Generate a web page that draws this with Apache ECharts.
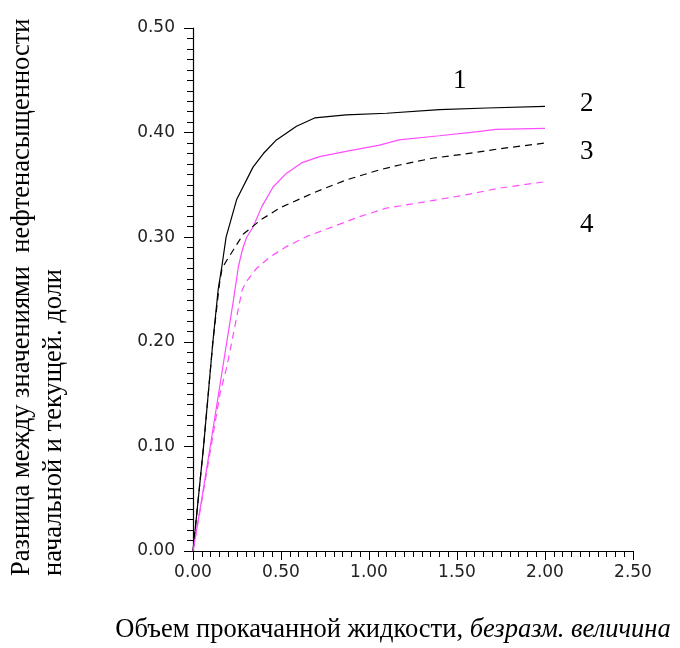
<!DOCTYPE html>
<html>
<head>
<meta charset="utf-8">
<script src="https://cdn.jsdelivr.net/npm/echarts@6/dist/echarts.min.js"></script>
<style>html,body{margin:0;padding:0;background:#fff}#c{width:680px;height:648px}</style>
</head>
<body>
<div id="c"></div>
<script>
// Curve 1 (black solid)
var x1 = [0, 0.06, 0.113, 0.143, 0.164, 0.188, 0.248, 0.341, 0.40, 0.474, 0.588, 0.691, 0.87, 1.10, 1.40, 1.67, 2.00];
var y1 = [0, 0.10, 0.20, 0.25, 0.272, 0.30, 0.336, 0.367, 0.380, 0.393, 0.406, 0.414, 0.417, 0.4185, 0.422, 0.4235, 0.425];
// Curve 2 (magenta solid)
var x2 = [0, 0.05, 0.098, 0.192, 0.23, 0.258, 0.282, 0.305, 0.342, 0.39, 0.455, 0.53, 0.616, 0.719, 0.87, 1.06, 1.17, 1.40, 1.62, 1.72, 2.00];
var y2 = [0, 0.05, 0.10, 0.20, 0.24, 0.272, 0.289, 0.30, 0.31, 0.329, 0.348, 0.361, 0.371, 0.377, 0.382, 0.388, 0.393, 0.397, 0.401, 0.403, 0.404];
// Curve 3 (black dashed)
var x3 = [0, 0.06, 0.113, 0.15, 0.165, 0.192, 0.23, 0.286, 0.324, 0.38, 0.493, 0.70, 0.87, 1.058, 1.173, 1.36, 1.548, 1.736, 2.00];
var y3 = [0, 0.10, 0.20, 0.255, 0.27, 0.278, 0.288, 0.303, 0.308, 0.316, 0.328, 0.3435, 0.3547, 0.3643, 0.369, 0.3755, 0.3796, 0.3844, 0.390];
// Curve 4 (magenta dashed)
var x4 = [0, 0.05, 0.116, 0.154, 0.192, 0.23, 0.258, 0.28, 0.305, 0.36, 0.437, 0.531, 0.644, 0.794, 0.945, 1.096, 1.246, 1.36, 1.548, 1.736, 2.00];
var y4 = [0, 0.048, 0.113, 0.151, 0.176, 0.208, 0.232, 0.25, 0.258, 0.27, 0.281, 0.291, 0.3005, 0.31, 0.3196, 0.3277, 0.3318, 0.335, 0.3404, 0.3468, 0.353];
var curveLabels = ['1', '2', '3', '4'];
var xTitleMain = 'Объем прокачанной жидкости, ';
var xTitleItalic = 'безразм. величина';
var yTitle1 = 'Разница между значениями  нефтенасыщенности';
var yTitle2 = 'начальной и текущей. доли';

function pairs(xs, ys) { return xs.map(function (v, i) { return [v, ys[i]]; }); }

var chart = echarts.init(document.getElementById('c'));
var serif = '"Liberation Serif", "Times New Roman", serif';
var tickFont = { fontFamily: '"DejaVu Sans", sans-serif', fontSize: 17, color: '#222' };
function mkLine(data, color, dashed) {
  return { type: 'line', data: data, showSymbol: false, symbol: 'none', animation: false,
    lineStyle: { color: color, width: 1.2, type: dashed ? [7, 5] : 'solid' } };
}
chart.setOption({
  animation: false,
  grid: { left: 193, right: 47, top: 28, bottom: 97 },
  xAxis: {
    type: 'value', min: 0, max: 2.5, interval: 0.5,
    axisLine: { lineStyle: { color: '#000', width: 1.2 } },
    axisTick: { length: 9, lineStyle: { color: '#000' } },
    minorTick: { show: true, splitNumber: 10, length: 6, lineStyle: { color: '#000' } },
    splitLine: { show: false },
    axisLabel: Object.assign({ margin: 13, formatter: function (v) { return v.toFixed(2); } }, tickFont)
  },
  yAxis: {
    type: 'value', min: 0, max: 0.5, interval: 0.1,
    axisLine: { show: true, lineStyle: { color: '#000', width: 1.2 } },
    axisTick: { show: true, length: 9, lineStyle: { color: '#000' } },
    minorTick: { show: true, splitNumber: 10, length: 6, lineStyle: { color: '#000' } },
    splitLine: { show: false },
    axisLabel: Object.assign({ margin: 18, formatter: function (v) { return v.toFixed(2); } }, tickFont)
  },
  series: [
    mkLine(pairs(x1, y1), '#000000', false),
    mkLine(pairs(x2, y2), '#ff4cff', false),
    mkLine(pairs(x3, y3), '#000000', true),
    mkLine(pairs(x4, y4), '#ff4cff', true)
  ],
  graphic: [
    { type: 'text', left: 453, top: 67, style: { text: curveLabels[0], font: '27px ' + serif, fill: '#000' } },
    { type: 'text', left: 580, top: 90, style: { text: curveLabels[1], font: '27px ' + serif, fill: '#000' } },
    { type: 'text', left: 580, top: 138, style: { text: curveLabels[2], font: '27px ' + serif, fill: '#000' } },
    { type: 'text', left: 580, top: 211, style: { text: curveLabels[3], font: '27px ' + serif, fill: '#000' } },
    { type: 'text', x: 393, y: 630, style: {
        text: '{n|' + xTitleMain + '}{i|' + xTitleItalic + '}', align: 'center', verticalAlign: 'middle',
        rich: { n: { font: '26.5px ' + serif, fill: '#000' }, i: { font: 'italic 26.5px ' + serif, fill: '#000' } } } },
    { type: 'text', x: 22, y: 576, rotation: Math.PI / 2, style: {
        text: yTitle1, align: 'left', verticalAlign: 'middle', font: '26.5px ' + serif, fill: '#000' } },
    { type: 'text', x: 54, y: 576, rotation: Math.PI / 2, style: {
        text: yTitle2, align: 'left', verticalAlign: 'middle', font: '26.5px ' + serif, fill: '#000' } }
  ]
});
</script>
</body>
</html>
